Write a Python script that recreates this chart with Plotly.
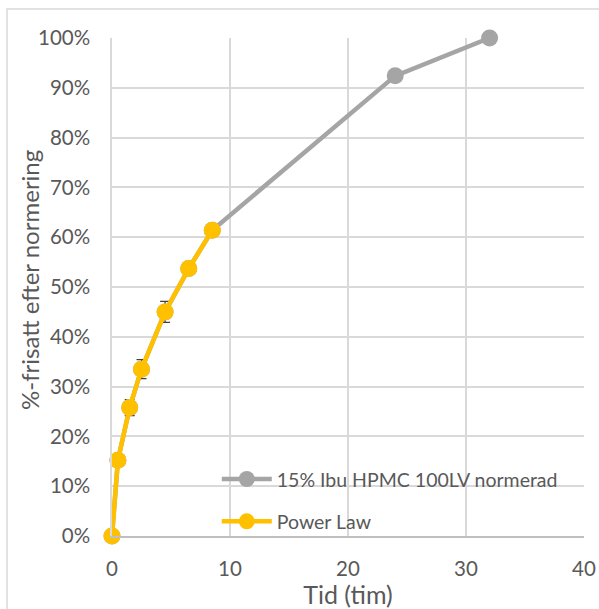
import plotly.graph_objects as go

# Release data (time in hours, released fraction in %)
tid = [0, 0.5, 1.5, 2.5, 4.5, 6.5, 8.5, 24, 32]
frisatt = [0, 15.2, 25.8, 33.5, 45.0, 53.7, 61.4, 92.4, 100]
frisatt_sd = [0, 0.6, 1.6, 1.9, 2.1, 0.8, 0.6, 0.5, 0]

# Power law fit over the early part of the curve
tid_pl = [0, 0.5, 1.5, 2.5, 4.5, 6.5, 8.5]
power_law = [0, 15.2, 25.8, 33.5, 45.0, 53.7, 61.4]

x_ticks = [0, 10, 20, 30, 40]
y_ticks = [0, 10, 20, 30, 40, 50, 60, 70, 80, 90, 100]

FONT = "Lato"
TXT = "#595959"
GRID = "#d9d9d9"

fig = go.Figure()
fig.add_trace(go.Scatter(
    x=tid, y=frisatt, mode="lines+markers",
    name="15% Ibu HPMC 100LV normerad",
    line=dict(color="#a5a5a5", width=4.5),
    marker=dict(color="#a5a5a5", size=17),
    error_y=dict(type="data", array=frisatt_sd, color="#404040", thickness=1.3, width=5),
    legendgroup="a", cliponaxis=False,
))
fig.add_trace(go.Scatter(
    x=tid_pl, y=power_law, mode="lines+markers",
    name="Power Law",
    line=dict(color="#ffc000", width=4.5),
    marker=dict(color="#ffc000", size=17),
    legendgroup="b", cliponaxis=False,
))

fig.update_layout(
    width=599, height=609,
    margin=dict(l=112, r=15, t=38, b=73),
    paper_bgcolor="white", plot_bgcolor="white",
    font=dict(family=FONT, color=TXT, size=20),
    showlegend=True,
    legend=dict(
        x=0.222, y=0.153, xanchor="left", yanchor="top",
        bgcolor="rgba(0,0,0,0)", font=dict(size=19.5, color=TXT),
        itemwidth=50, tracegroupgap=14, traceorder="grouped",
    ),
    xaxis=dict(
        range=[0, 40], tickvals=x_ticks, ticktext=[str(v) for v in x_ticks],
        showgrid=True, gridcolor=GRID, gridwidth=1.5, automargin=False,
        zeroline=False, showline=True, linecolor="#bfbfbf", linewidth=1.5,
        ticks="outside", ticklen=14, tickcolor="rgba(0,0,0,0)",
        title=dict(text="Tid (tim)", font=dict(size=25, color=TXT), standoff=3),
        tickfont=dict(size=20.5, color=TXT),
    ),
    yaxis=dict(
        range=[0, 100], tickvals=y_ticks, ticktext=[f"{v}%" for v in y_ticks],
        showgrid=True, gridcolor=GRID, gridwidth=1.5, automargin=False,
        zeroline=False, showline=True, linecolor="#d9d9d9", linewidth=1.5,
        ticks="outside", ticklen=16, tickcolor="rgba(0,0,0,0)",
        tickfont=dict(size=20.5, color=TXT),
    ),
    annotations=[dict(
        text="%-frisatt efter normering", textangle=-90,
        xref="paper", yref="paper", x=-83 / 472, y=256 / 498,
        xanchor="center", yanchor="middle", showarrow=False,
        font=dict(size=24, color=TXT),
    )],
    shapes=[dict(
        type="rect", xref="paper", yref="paper",
        x0=-105 / 472, x1=1.1, y0=-0.3, y1=1 + 29 / 498,
        line=dict(color="#d9d9d9", width=1.5), layer="above",
    )],
)

fig.write_html("out.html")
